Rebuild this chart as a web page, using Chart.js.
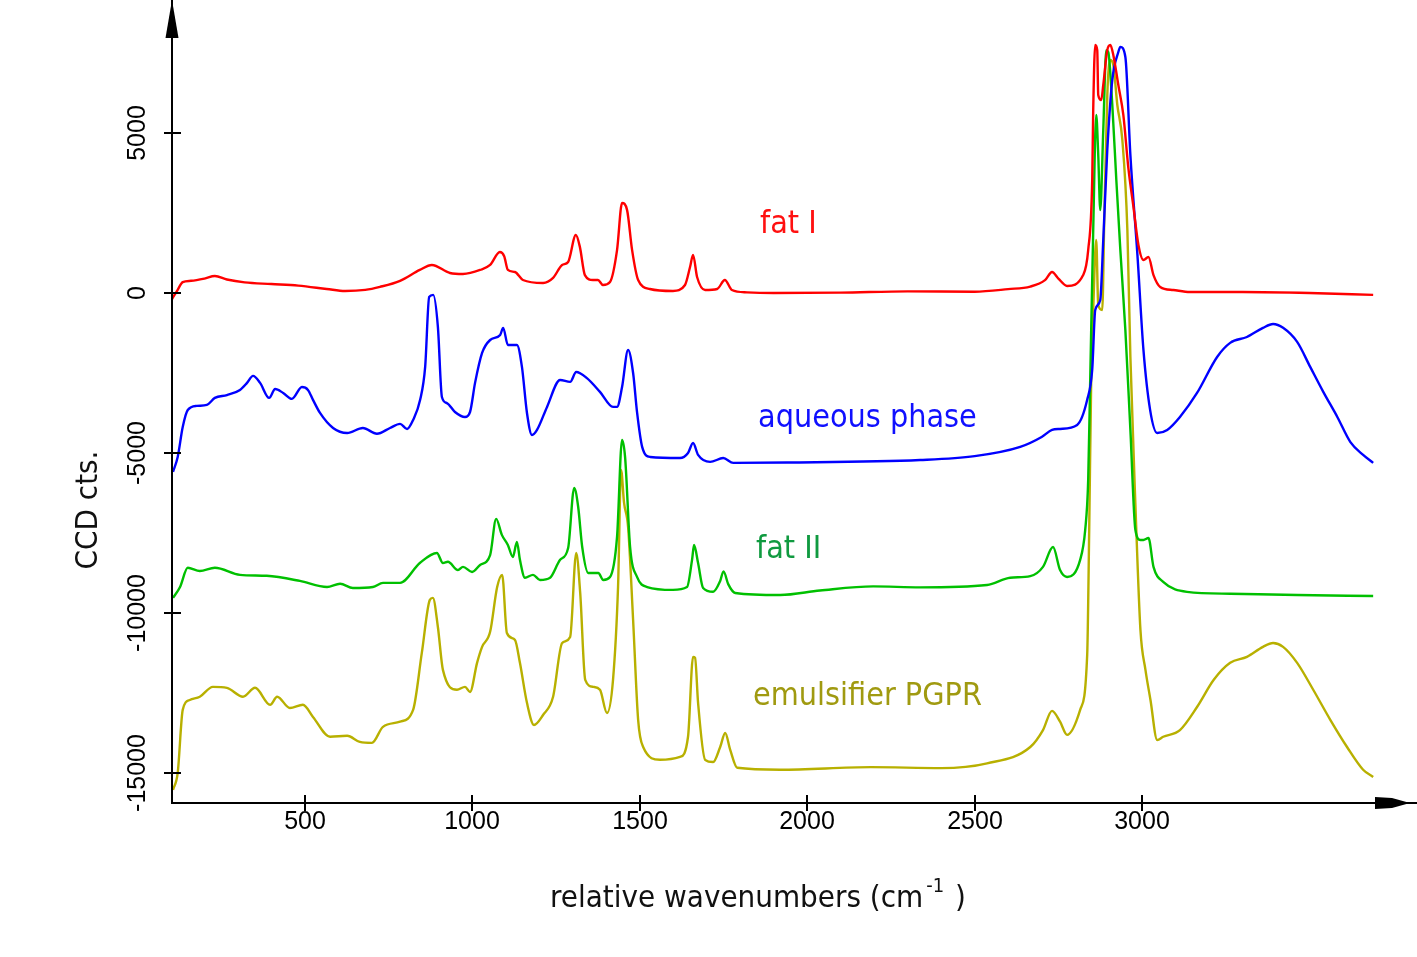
<!DOCTYPE html>
<html>
<head>
<meta charset="utf-8">
<script src="https://cdn.jsdelivr.net/npm/chart.js@4.4.1/dist/chart.umd.min.js"></script>
<style>
  html, body { margin: 0; padding: 0; background: #fff; }
  #wrap { width: 1417px; height: 957px; }
</style>
</head>
<body>
<div id="wrap"><canvas id="ramanChart" width="1417" height="957"></canvas></div>
<script>
// tick labels
const xTicks = [500, 1000, 1500, 2000, 2500, 3000];
const yTicks = [-15000, -10000, -5000, 0, 5000];

// series names
const seriesNames = ['fat I', 'aqueous phase', 'fat II', 'emulsifier PGPR'];

// fat I
const fat1Wn = [103, 120, 135, 160, 200, 231, 267, 320, 400, 480, 565, 620, 680, 724, 784, 843, 879, 933, 972, 1023,
  1053, 1082, 1095, 1106, 1127, 1151, 1211, 1241, 1268, 1286, 1309, 1321, 1336, 1360, 1375, 1390, 1411, 1432, 1447, 1462,
  1477, 1495, 1530, 1599, 1635, 1650, 1659, 1671, 1695, 1731, 1754, 1775, 1820, 1900, 2100, 2300, 2500, 2600, 2666, 2710,
  2731, 2750, 2776, 2824, 2839, 2851, 2854, 2860, 2866, 2869, 2878, 2884, 2896, 2905, 2914, 2929, 2944, 2959, 2974, 2989,
  3004, 3019, 3034, 3054, 3093, 3143, 3300, 3500, 3690];
const fat1Cts = [-190, 100, 340, 380, 450, 530, 420, 330, 280, 230, 125, 60, 95, 190, 380, 720, 875, 625, 594, 720,
  875, 1280, 1150, 720, 656, 406, 312, 470, 875, 970, 1810, 1440, 560, 406, 406, 250, 344, 1340, 2810, 2590,
  1340, 406, 125, 62, 250, 810, 1190, 500, 94, 125, 406, 94, 20, 0, 10, 50, 40, 120, 200, 400,
  656, 450, 220, 560, 1340, 3530, 5720, 7750, 7590, 6190, 6030, 6500, 7590, 7750, 7440, 6500, 5560, 3900, 2700, 1500,
  1030, 1125, 560, 190, 94, 30, 30, 0, -60];

// aqueous phase
const aqWn = [106, 120, 135, 150, 177, 207, 231, 267, 306, 327, 345, 366, 393, 411, 435, 461, 491, 509, 524, 545,
  584, 626, 673, 715, 754, 784, 805, 823, 844, 859, 871, 883, 897, 909, 924, 948, 978, 993, 1008, 1029,
  1053, 1083, 1092, 1106, 1133, 1148, 1163, 1178, 1193, 1223, 1262, 1292, 1310, 1342, 1381, 1420, 1432, 1447, 1465, 1480,
  1492, 1507, 1531, 1620, 1644, 1659, 1674, 1710, 1749, 1779, 1940, 2337, 2500, 2636, 2700, 2731, 2755, 2806, 2836, 2851,
  2860, 2875, 2884, 2896, 2911, 2929, 2935, 2950, 2965, 2986, 3004, 3024, 3045, 3075, 3113, 3164, 3224, 3263, 3313, 3361,
  3391, 3421, 3463, 3502, 3541, 3583, 3622, 3660, 3690];
const aqCts = [-5590, -5125, -4190, -3660, -3530, -3500, -3280, -3190, -3030, -2810, -2590, -2810, -3280, -3000, -3125, -3310, -2940, -3030, -3340, -3750,
  -4220, -4375, -4220, -4400, -4220, -4090, -4250, -3970, -3340, -2310, -125, -60, -1060, -3250, -3440, -3720, -3875, -3720, -2810, -1875,
  -1470, -1310, -1090, -1625, -1625, -2310, -3750, -4440, -4280, -3560, -2720, -2780, -2470, -2660, -3090, -3560, -3560, -2940, -1780, -2500,
  -3750, -4810, -5125, -5160, -5000, -4690, -5060, -5280, -5160, -5310, -5300, -5220, -5100, -4810, -4500, -4280, -4250, -4125, -3340, -2400,
  -530, -220, 1650, 4470, 6660, 7530, 7690, 7375, 4310, 1190, -1780, -3660, -4375, -4280, -3875, -3125, -2000, -1560, -1375, -1090,
  -970, -1090, -1530, -2310, -3090, -3875, -4660, -5060, -5310];

// fat II
const fat2Wn = [106, 127, 150, 186, 231, 306, 386, 485, 566, 605, 643, 703, 733, 784, 843, 894, 912, 927, 957, 972,
  999, 1023, 1053, 1071, 1088, 1106, 1121, 1133, 1142, 1157, 1181, 1202, 1232, 1262, 1286, 1304, 1316, 1328, 1346, 1376,
  1391, 1411, 1432, 1447, 1456, 1471, 1492, 1522, 1599, 1641, 1656, 1662, 1674, 1689, 1719, 1740, 1750, 1764, 1785, 1919,
  2038, 2197, 2337, 2537, 2606, 2666, 2704, 2734, 2755, 2776, 2815, 2830, 2839, 2845, 2854, 2863, 2869, 2875, 2884, 2893,
  2899, 2911, 2923, 2935, 2950, 2965, 2980, 2995, 3004, 3019, 3034, 3063, 3134, 3263, 3463, 3690];
const fat2Cts = [-9530, -9190, -8590, -8690, -8590, -8810, -8840, -9000, -9190, -9090, -9220, -9190, -9060, -9060, -8440, -8125, -8440, -8400, -8660, -8560,
  -8720, -8500, -8190, -7060, -7560, -7875, -8250, -7780, -8340, -8900, -8810, -8970, -8900, -8340, -7970, -6090, -6690, -7940, -8750, -8750,
  -8970, -8880, -7625, -4590, -5125, -7940, -8880, -9190, -9280, -9190, -8340, -7875, -8440, -9220, -9340, -9000, -8700, -9100, -9375, -9440,
  -9300, -9170, -9200, -9125, -8900, -8850, -8560, -7940, -8660, -8875, -8340, -7410, -5840, -2720, 1970, 5560, 4310, 2590, 5090, 7590,
  7530, 5875, 3530, 1340, -1160, -4280, -7410, -7720, -7720, -7660, -8560, -9030, -9340, -9400, -9440, -9470];

// emulsifier PGPR
const pgprWn = [106, 120, 135, 156, 186, 225, 267, 315, 351, 396, 417, 455, 494, 524, 575, 626, 664, 700, 733, 784,
  823, 849, 873, 882, 897, 912, 954, 978, 993, 1014, 1029, 1053, 1074, 1089, 1103, 1127, 1142, 1163, 1184, 1211,
  1241, 1268, 1292, 1310, 1322, 1337, 1361, 1381, 1402, 1420, 1435, 1444, 1453, 1465, 1480, 1495, 1510, 1560, 1620, 1644,
  1659, 1665, 1674, 1695, 1719, 1740, 1755, 1770, 1791, 1919, 2190, 2400, 2537, 2666, 2704, 2731, 2755, 2776, 2815, 2836,
  2842, 2848, 2854, 2863, 2869, 2881, 2887, 2896, 2905, 2914, 2926, 2941, 2956, 2965, 2980, 2995, 3010, 3025, 3045, 3063,
  3113, 3164, 3214, 3263, 3313, 3361, 3391, 3421, 3463, 3511, 3562, 3612, 3660, 3690];
const pgprCts = [-15530, -15000, -13030, -12720, -12620, -12310, -12340, -12620, -12340, -12870, -12620, -12970, -12870, -13250, -13870, -13840, -14030, -14060, -13560, -13400,
  -13030, -11250, -9590, -9530, -10440, -11780, -12400, -12310, -12470, -11560, -11060, -10590, -9190, -8810, -10625, -10840, -11560, -12810, -13500, -13190,
  -12620, -10940, -10750, -8125, -9375, -12090, -12310, -12400, -13125, -12090, -9190, -5530, -6560, -7310, -10220, -13340, -14190, -14590, -14500, -13870,
  -11375, -11400, -12810, -14590, -14660, -14190, -13750, -14280, -14840, -14900, -14820, -14850, -14700, -14190, -13660, -13060, -13400, -13810, -13030, -11310,
  -7410, -2720, -530, 1660, -375, -530, 2280, 6190, 7280, 7125, 5875, 4780, 1970, -2000, -6625, -10530, -11780, -12720, -13970, -13870,
  -13660, -12940, -12090, -11560, -11375, -11060, -10940, -11060, -11560, -12400, -13340, -14190, -14900, -15125];

const lineColors = ['#ff0000', '#0000ff', '#00c000', '#b8b000'];
const textColors = ['#ff1010', '#1010ff', '#109a40', '#a09a10'];

const toPoints = (xs, ys) => xs.map((x, i) => ({ x: x, y: ys[i] }));

const labelFont = "'DejaVu Sans Condensed', 'DejaVu Sans', sans-serif";
const tickFont = "25px 'Liberation Sans', Arial, sans-serif";

const axesPlugin = {
  id: 'arrowAxes',
  afterDraw(chart) {
    const ctx = chart.ctx;
    const xs = chart.scales.x;
    const ys = chart.scales.y;
    const x0 = xs.left + 1;
    const y0 = ys.bottom;
    ctx.save();
    ctx.strokeStyle = '#000';
    ctx.fillStyle = '#000';
    ctx.lineWidth = 2;

    // y axis + arrow
    ctx.beginPath();
    ctx.moveTo(x0, y0);
    ctx.lineTo(x0, 0);
    ctx.stroke();
    ctx.beginPath();
    ctx.moveTo(x0, 0);
    ctx.lineTo(x0 - 6.5, 38);
    ctx.lineTo(x0 + 6.5, 38);
    ctx.closePath();
    ctx.fill();

    // x axis + arrow
    ctx.beginPath();
    ctx.moveTo(xs.left, y0);
    ctx.lineTo(1417, y0);
    ctx.stroke();
    ctx.beginPath();
    ctx.moveTo(1375, y0 - 6);
    ctx.lineTo(1392, y0 - 5);
    ctx.lineTo(1410, y0);
    ctx.lineTo(1392, y0 + 5);
    ctx.lineTo(1375, y0 + 6);
    ctx.closePath();
    ctx.fill();

    // ticks
    ctx.font = tickFont;
    ctx.textAlign = 'center';
    ctx.textBaseline = 'middle';
    xTicks.forEach(v => {
      const px = Math.round(xs.getPixelForValue(v));
      ctx.beginPath();
      ctx.moveTo(px, y0 - 8);
      ctx.lineTo(px, y0 + 8);
      ctx.stroke();
      ctx.fillText(String(v), px, 822);
    });
    yTicks.forEach(v => {
      const py = Math.round(ys.getPixelForValue(v));
      ctx.beginPath();
      ctx.moveTo(x0 - 8, py);
      ctx.lineTo(x0 + 9, py);
      ctx.stroke();
      ctx.save();
      ctx.translate(138, py);
      ctx.rotate(-Math.PI / 2);
      ctx.fillText(String(v), 0, 0);
      ctx.restore();
    });

    // axis titles
    ctx.fillStyle = '#111';
    ctx.save();
    ctx.translate(89, 510);
    ctx.rotate(-Math.PI / 2);
    ctx.font = '31px ' + labelFont;
    ctx.textAlign = 'center';
    ctx.fillText('CCD cts.', 0, 0);
    ctx.restore();

    ctx.textAlign = 'left';
    ctx.textBaseline = 'alphabetic';
    ctx.font = '31px ' + labelFont;
    const t1 = 'relative wavenumbers (cm';
    ctx.fillText(t1, 550, 907);
    let cx = 550 + ctx.measureText(t1).width + 3;
    ctx.font = '20px ' + labelFont;
    ctx.fillText('-1', cx, 892);
    cx += ctx.measureText('-1').width + 2;
    ctx.font = '31px ' + labelFont;
    ctx.fillText(' )', cx, 907);

    // series labels
    const labelPos = [[760, 233], [758, 427], [756, 558], [753, 705]];
    ctx.font = '32px ' + labelFont;
    seriesNames.forEach((name, i) => {
      ctx.fillStyle = textColors[i];
      ctx.fillText(name, labelPos[i][0], labelPos[i][1]);
    });
    ctx.restore();
  }
};

new Chart(document.getElementById('ramanChart'), {
  type: 'line',
  data: {
    datasets: [
      { label: seriesNames[0], data: toPoints(fat1Wn, fat1Cts), borderColor: lineColors[0] },
      { label: seriesNames[1], data: toPoints(aqWn, aqCts), borderColor: lineColors[1] },
      { label: seriesNames[2], data: toPoints(fat2Wn, fat2Cts), borderColor: lineColors[2] },
      { label: seriesNames[3], data: toPoints(pgprWn, pgprCts), borderColor: lineColors[3] }
    ]
  },
  options: {
    responsive: false,
    animation: false,
    devicePixelRatio: 1,
    layout: { padding: { left: 171, right: 7, top: 5, bottom: 154 } },
    elements: {
      point: { radius: 0 },
      line: { borderWidth: 2.4, cubicInterpolationMode: 'monotone', fill: false }
    },
    plugins: { legend: { display: false }, tooltip: { enabled: false } },
    scales: {
      x: { type: 'linear', min: 100, max: 3800, display: false },
      y: { type: 'linear', min: -15940, max: 9000, display: false }
    }
  },
  plugins: [axesPlugin]
});
</script>
</body>
</html>
